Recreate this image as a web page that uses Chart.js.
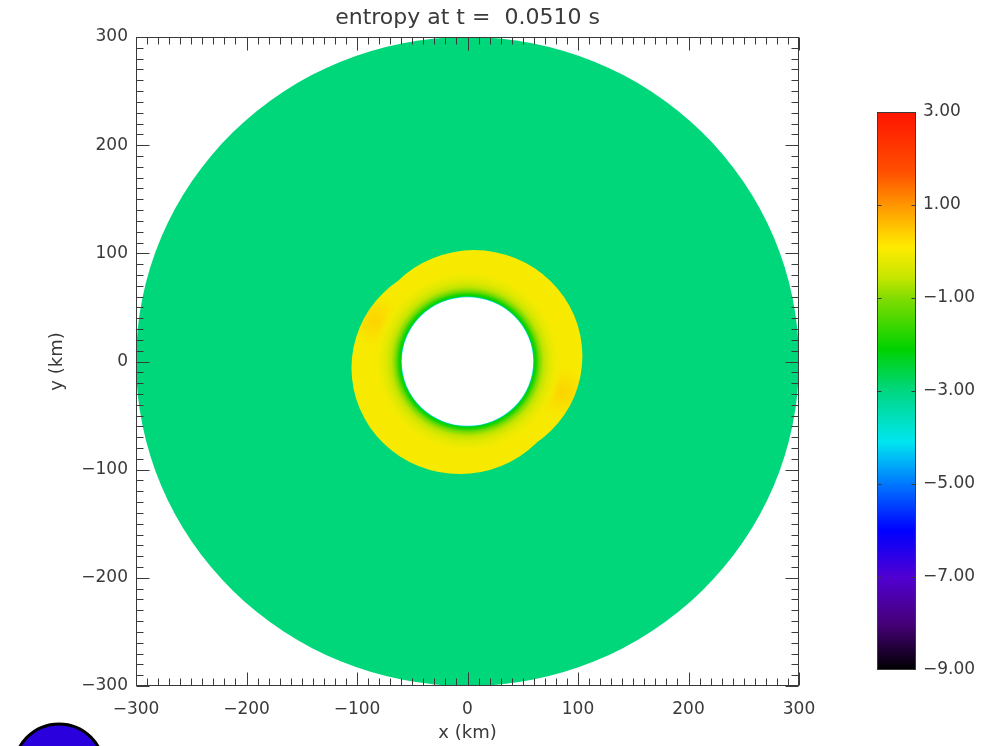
<!DOCTYPE html>
<html>
<head>
<meta charset="utf-8">
<script src="https://cdn.jsdelivr.net/npm/chart.js@4.4.1/dist/chart.umd.min.js"></script>
<style>
    html, body { margin: 0; padding: 0; background: #fff; }
    #wrap { position: relative; width: 993px; height: 746px; overflow: hidden; }
    #campo { position: absolute; left: 0; top: 0; }
    #barra { position: absolute; left: 850px; top: 0; }
</style>
</head>
<body>
<div id="wrap">
    <canvas id="campo" width="993" height="746"></canvas>
    <canvas id="barra" width="143" height="746"></canvas>
</div>
<script>
const titulo = "entropy at t =  0.0510 s";
const ejeTicks = [-300, -200, -100, 0, 100, 200, 300];
const barraTicks = [-9, -7, -5, -3, -1, 1, 3];

const cmapValores = [-9, -8, -7, -6, -5, -4.1, -3, -2.1, -1, -0.55, 0.1, 1, 1.7, 3];
const cmapColores = [
    [0, 0, 0], [70, 0, 120], [80, 0, 210], [0, 0, 255], [0, 120, 255], [0, 230, 240],
    [0, 215, 130], [0, 210, 0], [130, 220, 0], [200, 230, 0], [255, 235, 0],
    [255, 150, 0], [255, 80, 0], [255, 20, 0],
];

// disco (km) y entropia de fondo
const radioDisco = 300;
const valorFondo = -2.95;
// capa caliente: dos lobulos desplazados
const lobuloX = [6, -7];
const lobuloY = [5, -6];
const lobuloR = [98, 98];
const valorLobulo = 0.0;
// zonas mas calientes
const manchaX = [-84, 86];
const manchaY = [38, -28];
const manchaR = [24, 24];
const valorMancha = 0.45;
// perfil radial junto al hueco
const perfilR = [59.5, 60.5, 62, 65, 69, 74, 80, 86];
const perfilS = [-4.2, -2.2, -1.9, -1.1, -0.6, -0.25, -0.05, 0.0];
const radioHueco = 59.5;

const fuente = "'DejaVu Sans', sans-serif";
const gris = "#3a3a3a";

function colorDe(v, alfa) {
    const a = alfa === undefined ? 1 : alfa;
    let c = cmapColores[cmapColores.length - 1];
    if (v <= cmapValores[0]) c = cmapColores[0];
    for (let i = 1; i < cmapValores.length; i++) {
        if (v >= cmapValores[i - 1] && v <= cmapValores[i]) {
            const t = (v - cmapValores[i - 1]) / (cmapValores[i] - cmapValores[i - 1]);
            c = cmapColores[i - 1].map((c0, k) => Math.round(c0 + t * (cmapColores[i][k] - c0)));
            break;
        }
    }
    return "rgba(" + c[0] + "," + c[1] + "," + c[2] + "," + a + ")";
}

function etiqueta(v) {
    return String(v).replace("-", "\u2212");
}

const campoPlugin = {
    id: "campo",
    afterDraw(chart) {
        const { ctx, chartArea: a, scales: { x, y } } = chart;
        const cx = x.getPixelForValue(0), cy = y.getPixelForValue(0);
        const sx = x.getPixelForValue(1) - cx, sy = y.getPixelForValue(1) - cy;
        const circulo = (px, py, r) => { ctx.beginPath(); ctx.arc(px, py, r, 0, Math.PI * 2); };

        ctx.save();
        ctx.beginPath();
        ctx.rect(a.left, a.top, a.width, a.height);
        ctx.clip();
        ctx.translate(cx, cy);
        ctx.scale(sx, sy);

        circulo(0, 0, radioDisco);
        ctx.fillStyle = colorDe(valorFondo);
        ctx.fill();

        ctx.save();
        ctx.beginPath();
        lobuloX.forEach((lx, i) => {
            ctx.moveTo(lx + lobuloR[i], lobuloY[i]);
            ctx.arc(lx, lobuloY[i], lobuloR[i], 0, Math.PI * 2);
        });
        ctx.fillStyle = colorDe(valorLobulo);
        ctx.fill();
        ctx.clip();
        manchaX.forEach((mx, i) => {
            const my = manchaY[i], mr = manchaR[i];
            const g = ctx.createRadialGradient(mx, my, 0, mx, my, mr);
            g.addColorStop(0, colorDe(valorMancha, 0.7));
            g.addColorStop(1, colorDe(valorMancha, 0));
            ctx.fillStyle = g;
            circulo(mx, my, mr);
            ctx.fill();
        });
        ctx.restore();

        const r0 = perfilR[0], r1 = perfilR[perfilR.length - 1];
        const g = ctx.createRadialGradient(0, 0, r0, 0, 0, r1);
        perfilR.forEach((r, i) => {
            g.addColorStop((r - r0) / (r1 - r0), colorDe(perfilS[i], i === perfilR.length - 1 ? 0 : 1));
        });
        ctx.fillStyle = g;
        circulo(0, 0, r1);
        ctx.fill();

        circulo(0, 0, radioHueco);
        ctx.fillStyle = "#fff";
        ctx.fill();
        ctx.restore();

        // marco y marcas hacia dentro
        ctx.save();
        ctx.strokeStyle = gris;
        ctx.lineWidth = 1;
        const L = Math.round(a.left) + 0.5, R = Math.round(a.right) - 0.5;
        const T = Math.round(a.top) + 0.5, B = Math.round(a.bottom) - 0.5;
        ctx.strokeRect(L, T, R - L, B - T);
        ctx.beginPath();
        for (let v = x.min; v <= x.max; v += 10) {
            const largo = v % 100 === 0 ? 13 : 7;
            const px = Math.round(x.getPixelForValue(v)) + 0.5;
            ctx.moveTo(px, B); ctx.lineTo(px, B - largo);
            ctx.moveTo(px, T); ctx.lineTo(px, T + largo);
        }
        for (let v = y.min; v <= y.max; v += 10) {
            const largo = v % 100 === 0 ? 13 : 7;
            const py = Math.round(y.getPixelForValue(v)) + 0.5;
            ctx.moveTo(L, py); ctx.lineTo(L + largo, py);
            ctx.moveTo(R, py); ctx.lineTo(R - largo, py);
        }
        ctx.stroke();

        // logo azul en la esquina
        ctx.beginPath();
        ctx.arc(59, 769, 45, 0, Math.PI * 2);
        ctx.fillStyle = "#2a00dc";
        ctx.fill();
        ctx.lineWidth = 3;
        ctx.strokeStyle = "#000";
        ctx.stroke();
        ctx.restore();
    },
};

new Chart(document.getElementById("campo"), {
    type: "scatter",
    data: { datasets: [] },
    options: {
        responsive: false,
        animation: false,
        layout: { padding: { left: 0, right: 194, top: 0, bottom: 0 } },
        plugins: {
            legend: { display: false },
            tooltip: { enabled: false },
            title: {
                display: true,
                text: titulo,
                fullSize: false,
                color: gris,
                font: { family: fuente, size: 22, weight: "normal" },
                padding: { top: 5, bottom: 5.6 },
            },
        },
        scales: {
            x: {
                type: "linear",
                min: -300,
                max: 300,
                afterBuildTicks: (s) => { s.ticks = ejeTicks.map((v) => ({ value: v })); },
                afterFit: (s) => { s.height = 60; },
                grid: { display: false, drawTicks: false },
                border: { display: false },
                ticks: {
                    color: gris,
                    padding: 13,
                    maxRotation: 0,
                    font: { family: fuente, size: 17 },
                    callback: (v) => etiqueta(v),
                },
                title: {
                    display: true,
                    text: "x (km)",
                    color: gris,
                    font: { family: fuente, size: 18 },
                    padding: { top: 0, bottom: 2 },
                },
            },
            y: {
                type: "linear",
                min: -300,
                max: 300,
                afterBuildTicks: (s) => { s.ticks = ejeTicks.map((v) => ({ value: v })); },
                afterFit: (s) => { s.width = 136; },
                grid: { display: false, drawTicks: false },
                border: { display: false },
                ticks: {
                    color: gris,
                    padding: 8,
                    font: { family: fuente, size: 17 },
                    callback: (v) => etiqueta(v),
                },
                title: {
                    display: true,
                    text: "y (km)",
                    color: gris,
                    font: { family: fuente, size: 18 },
                    padding: { top: 47, bottom: 0 },
                },
            },
        },
    },
    plugins: [campoPlugin],
});

const barraPlugin = {
    id: "barra",
    afterDraw(chart) {
        const { ctx, chartArea: a, scales: { y } } = chart;
        const pArriba = y.getPixelForValue(y.max), pAbajo = y.getPixelForValue(y.min);
        const g = ctx.createLinearGradient(0, pAbajo, 0, pArriba);
        cmapValores.forEach((v) => {
            g.addColorStop((y.getPixelForValue(v) - pAbajo) / (pArriba - pAbajo), colorDe(v));
        });
        ctx.save();
        ctx.fillStyle = g;
        ctx.fillRect(a.left, a.top, a.width, a.height);
        ctx.strokeStyle = gris;
        ctx.lineWidth = 1;
        const L = Math.round(a.left) + 0.5, R = Math.round(a.right) - 0.5;
        const T = Math.round(a.top) + 0.5, B = Math.round(a.bottom) - 0.5;
        ctx.strokeRect(L, T, R - L, B - T);
        ctx.beginPath();
        barraTicks.forEach((v) => {
            if (v === y.min || v === y.max) return;
            const py = Math.round(y.getPixelForValue(v)) + 0.5;
            ctx.moveTo(L, py); ctx.lineTo(L + 4, py);
            ctx.moveTo(R, py); ctx.lineTo(R - 4, py);
        });
        ctx.stroke();
        ctx.restore();
    },
};

new Chart(document.getElementById("barra"), {
    type: "bar",
    data: { labels: [""], datasets: [] },
    options: {
        responsive: false,
        animation: false,
        layout: { padding: { left: 27, right: 0, top: 112, bottom: 76 } },
        plugins: { legend: { display: false }, tooltip: { enabled: false } },
        scales: {
            x: { display: false },
            y: {
                type: "linear",
                position: "right",
                min: -9,
                max: 3,
                afterBuildTicks: (s) => { s.ticks = barraTicks.map((v) => ({ value: v })); },
                afterFit: (s) => { s.width = 77; },
                grid: { display: false, drawTicks: false },
                border: { display: false },
                ticks: {
                    color: gris,
                    padding: 7,
                    font: { family: fuente, size: 17 },
                    callback: (v) => etiqueta(Number(v).toFixed(2)),
                },
            },
        },
    },
    plugins: [barraPlugin],
});
</script>
</body>
</html>
